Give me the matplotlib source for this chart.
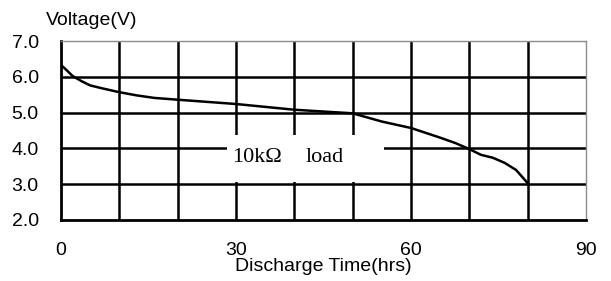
import matplotlib
matplotlib.use("Agg")
from matplotlib import pyplot as plt
from matplotlib.patches import Rectangle

hours = [0, 1, 2, 3.5, 5, 7, 10, 13, 16, 20, 25, 30, 35, 40, 45, 50,
         55, 60, 65, 67.6, 70, 72, 74, 76, 78, 80]
volts = [6.33, 6.18, 6.02, 5.88, 5.76, 5.68, 5.57, 5.48, 5.41, 5.36, 5.30,
         5.24, 5.16, 5.08, 5.03, 4.98, 4.75, 4.57, 4.30, 4.15, 3.98, 3.82,
         3.74, 3.60, 3.40, 3.03]

x_ticks = [0, 30, 60, 90]
y_ticks = [2.0, 3.0, 4.0, 5.0, 6.0, 7.0]
x_grid = [10, 20, 30, 40, 50, 60, 70, 80]
y_grid = [3.0, 4.0, 5.0, 6.0]

plt.rcParams["font.family"] = ["Liberation Sans", "DejaVu Sans"]

fig = plt.figure(figsize=(6.11, 2.81), dpi=100)
ax = fig.add_axes([61 / 611, 61 / 281, 525 / 611, 179 / 281])

for xv in x_grid:
    ax.axvline(xv, color="black", lw=1.8, zorder=1)
for yv in y_grid:
    ax.axhline(yv, color="black", lw=1.8, zorder=1)

# white box behind the load label
ax.add_patch(Rectangle((28.5, 3.06), 26.9, 1.31, facecolor="white",
                       edgecolor="none", zorder=2))
ax.text(29.3, 3.63, "10kΩ", family="Liberation Serif", fontsize=16,
        va="baseline", zorder=3)
ax.text(41.9, 3.63, "load", family="Liberation Serif", fontsize=16,
        va="baseline", zorder=3)

ax.plot(hours, volts, color="black", lw=1.8, zorder=4)

ax.set_xlim(0, 90)
ax.set_ylim(2.0, 7.0)
ax.set_xticks(x_ticks)
ax.set_yticks(y_ticks)
ax.set_yticklabels([f"{v:.1f}" for v in y_ticks])
ax.tick_params(length=0, labelsize=14)
ax.tick_params(axis="y", pad=16)
ax.tick_params(axis="x", pad=16)

for side in ("left", "bottom"):
    ax.spines[side].set_linewidth(2.0)
    ax.spines[side].set_color("black")
for side in ("top", "right"):
    ax.spines[side].set_linewidth(1.0)
    ax.spines[side].set_color("#8c8c8c")

ax.set_xlabel("Discharge Time(hrs)", fontsize=14, labelpad=-1)
fig.text(46 / 611, 1 - 25 / 281, "Voltage(V)", fontsize=14, va="baseline")

fig.savefig("out.png", dpi=100)
